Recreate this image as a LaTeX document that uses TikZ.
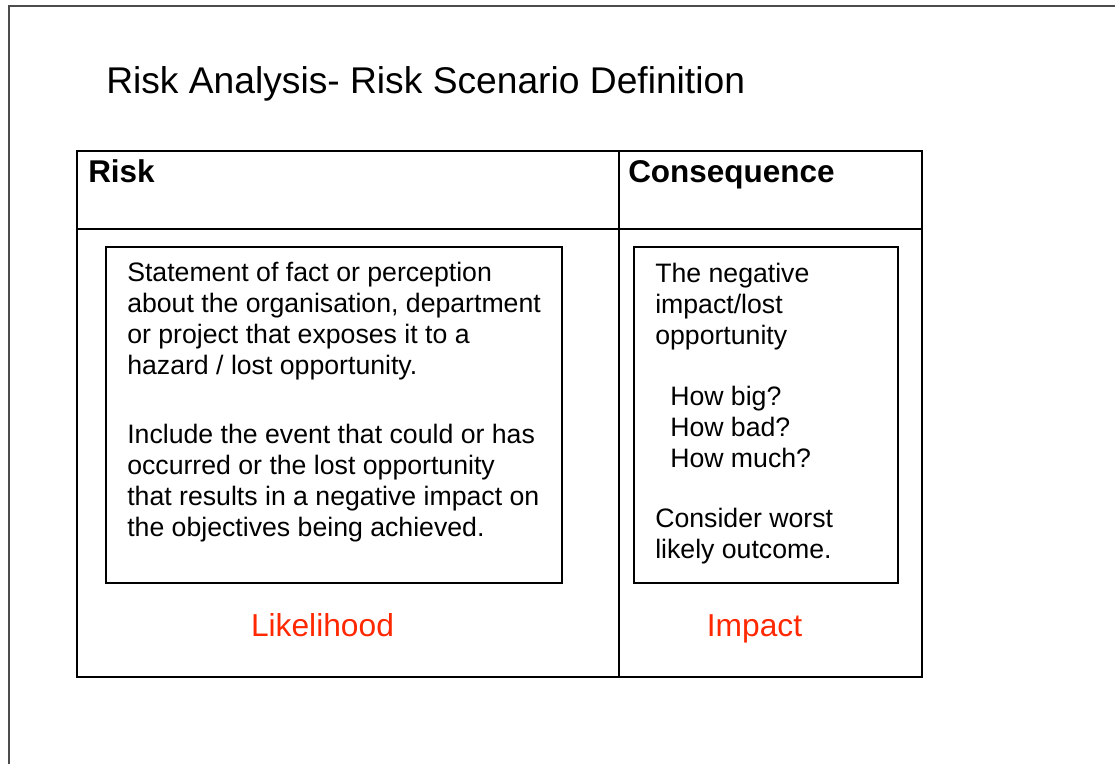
\documentclass[tikz,border=0pt]{standalone}
\usepackage{fontspec}
\setmainfont{Liberation Sans}
\definecolor{riskred}{RGB}{255,40,0}

\begin{document}
\begin{tikzpicture}[x=0.75pt,y=-0.75pt,
  frame line/.style={draw=black!70,line width=1.5pt},
  cell/.style={draw,line width=1.5pt},
  title text/.style={anchor=base west,inner sep=0pt,font=\fontsize{27.9}{32}\selectfont},
  head text/.style={anchor=base west,inner sep=0pt,font=\fontsize{23.6}{28}\selectfont\bfseries},
  body text/.style={anchor=base west,inner sep=0pt,align=left,font=\fontsize{20}{23.1}\selectfont},
  label text/.style={anchor=base,inner sep=0pt,text=riskred,font=\fontsize{23.8}{28}\selectfont}]

  \useasboundingbox (0,0) rectangle (1115,764);
  \draw[frame line] (9,770) -- (9,6) -- (1120,6);

  % table
  \draw[cell] (77,151) rectangle (922,677);
  \draw[cell] (619,151) -- (619,677);
  \draw[cell] (77,229) -- (922,229);
  \draw[cell] (106,247) rectangle (562,583);
  \draw[cell] (634,247) rectangle (898,583);

  \node[title text] (title) at (106,93) {Risk Analysis- Risk Scenario Definition};
  \node[head text] (risk) at (88,182) {Risk};
  \node[head text] (conseq) at (628,182) {Consequence};

  % body nodes sit on the baseline of their last line
  \node[body text] (fact) at (127,374) {Statement of fact or perception\\
    about the organisation, department\\or project that exposes it to a\\hazard / lost opportunity.};
  \node[body text] (event) at (127,536) {Include the event that could or has\\
    occurred or the lost opportunity\\that results in a negative impact on\\the objectives being achieved.};

  \node[body text] (neg) at (655,344) {The negative\\impact/lost\\opportunity};
  \node[body text] (how) at (670,467) {How big?\\How bad?\\How much?};
  \node[body text] (worst) at (655,558) {Consider worst\\likely outcome.};

  \node[label text] (likely) at (322.5,636) {Likelihood};
  \node[label text] (impact) at (754.5,636) {Impact};

\end{tikzpicture}
\end{document}
